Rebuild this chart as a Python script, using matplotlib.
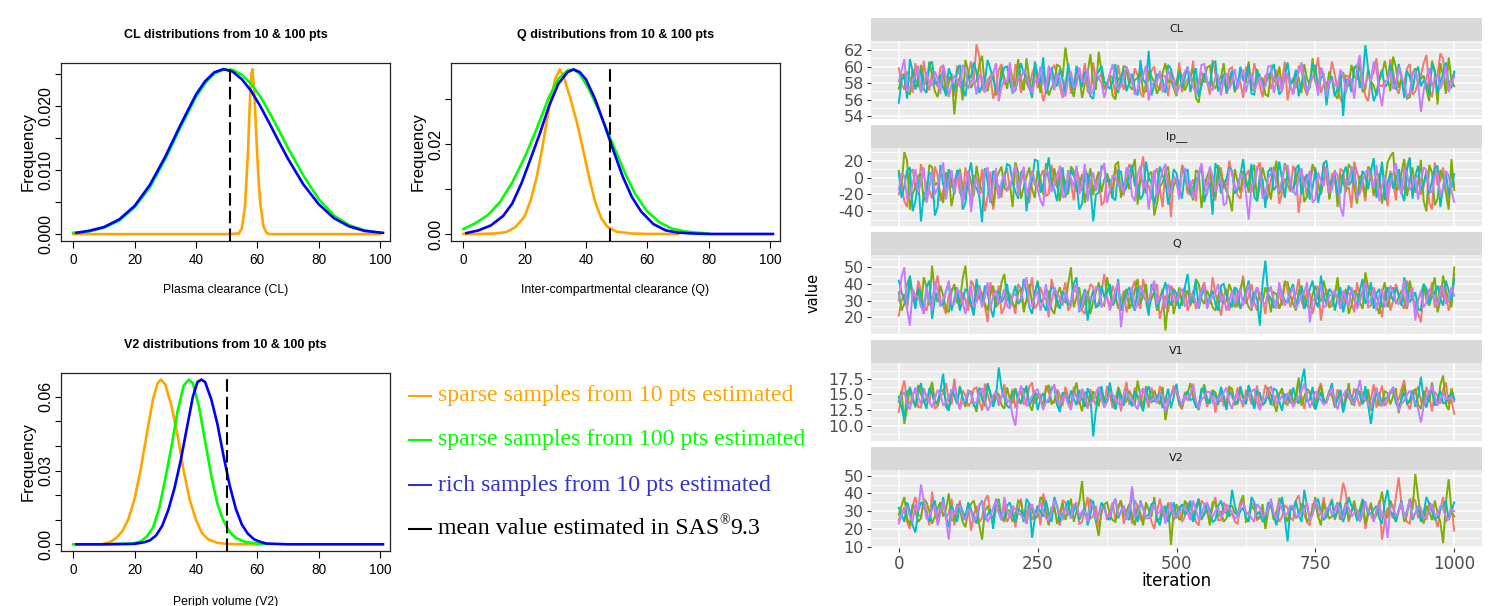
import numpy as np
import matplotlib
matplotlib.use("Agg")
import matplotlib.pyplot as plt
from matplotlib import font_manager
from matplotlib.lines import Line2D

# ---------------------------------------------------------------- data: density curves
# CL panel
cl_orange_x = [0, 10, 20, 30, 40, 50, 54, 55, 56, 57, 57.5, 58, 58.4, 59, 59.5, 60, 60.5, 61, 62, 63, 64, 70, 80, 90, 100]
cl_orange_y = [0, 0, 0, 0, 0, 0, 0.0001, 0.0009, 0.0043, 0.0130, 0.0195, 0.0245, 0.0258, 0.0225, 0.0175,
               0.0124, 0.0080, 0.0048, 0.0013, 0.0002, 0, 0, 0, 0, 0]
cl_green_x = [0, 5, 10, 15, 20, 25, 30, 35, 40, 43, 46, 49, 52, 55, 58, 61, 64, 67, 70, 75, 80, 85, 90, 95, 100]
cl_green_y = [0.0002, 0.0004, 0.0010, 0.0021, 0.0042, 0.0073, 0.0117, 0.0167, 0.0214, 0.0236, 0.0251, 0.0257,
              0.0257, 0.0249, 0.0235, 0.0215, 0.0190, 0.0163, 0.0135, 0.0092, 0.0055, 0.0029, 0.0014, 0.0006, 0.0002]
cl_blue_x = [1, 5, 10, 15, 20, 25, 30, 35, 40, 43, 46, 49, 52, 55, 58, 61, 64, 67, 70, 75, 80, 85, 90, 95, 101]
cl_blue_y = [0.0002, 0.0005, 0.0011, 0.0023, 0.0044, 0.0077, 0.0121, 0.0171, 0.0218, 0.0239, 0.0253, 0.0258,
             0.0254, 0.0242, 0.0224, 0.0200, 0.0173, 0.0145, 0.0118, 0.0078, 0.0047, 0.0025, 0.0012, 0.0005, 0.0002]
cl_mean = 51.1

# Q panel
q_orange_x = [0, 5, 10, 14, 17, 20, 22, 24, 26, 28, 30, 31.5, 33, 35, 37, 39, 41, 43, 45, 47, 50, 55, 60, 70]
q_orange_y = [0, 0, 0.0001, 0.0004, 0.0015, 0.0039, 0.0075, 0.0128, 0.0200, 0.0282, 0.0345, 0.0366, 0.0345,
              0.0300, 0.0250, 0.0190, 0.0127, 0.0072, 0.0035, 0.0016, 0.0005, 0.0001, 0, 0]
q_green_x = [0, 4, 8, 12, 16, 20, 24, 28, 31, 34, 36, 38, 41, 44, 47, 50, 53, 56, 60, 64, 68, 72, 76, 80]
q_green_y = [0.0011, 0.0024, 0.0042, 0.0071, 0.0115, 0.0170, 0.0235, 0.0305, 0.0345, 0.0364, 0.0366, 0.0356,
             0.0322, 0.0278, 0.0228, 0.0180, 0.0132, 0.0090, 0.0050, 0.0026, 0.0012, 0.0006, 0.0003, 0.0001]
q_blue_x = [1, 5, 9, 13, 16, 19, 22, 25, 28, 31, 34, 36, 38, 40, 43, 46, 49, 52, 55, 58, 62, 66, 70, 75, 80, 90, 101]
q_blue_y = [0.0002, 0.0008, 0.0019, 0.0040, 0.0068, 0.0113, 0.0168, 0.0224, 0.0285, 0.0334, 0.0360, 0.0366,
            0.0360, 0.0344, 0.0300, 0.0244, 0.0185, 0.0128, 0.0082, 0.0050, 0.0022, 0.0008, 0.0003, 0.0001, 0, 0, 0]
q_mean = 48.0

# V2 panel
v2_orange_x = [10, 12, 14, 16, 18, 20, 22, 24, 26, 27.5, 28.6, 30, 32, 34, 36, 38, 40, 42, 44, 47, 50, 55, 60]
v2_orange_y = [0.0003, 0.0009, 0.0025, 0.0053, 0.0103, 0.0185, 0.0305, 0.0450, 0.0590, 0.0655, 0.0670, 0.0650,
               0.0565, 0.0445, 0.0300, 0.0180, 0.0100, 0.0045, 0.0020, 0.0006, 0.0002, 0, 0]
v2_green_x = [0, 10, 18, 20, 22, 24, 26, 28, 30, 32, 34, 36, 37.7, 39, 41, 43, 45, 47, 49, 51, 53, 56, 60, 63]
v2_green_y = [0, 0, 0.0002, 0.0005, 0.0012, 0.0032, 0.0068, 0.0145, 0.0265, 0.0395, 0.0540, 0.0645, 0.0670,
              0.0655, 0.0560, 0.0420, 0.0280, 0.0165, 0.0095, 0.0050, 0.0026, 0.0010, 0.0003, 0.0001]
v2_blue_x = [1, 10, 20, 23, 25, 27, 29, 31, 33, 35, 37, 39, 40.5, 41.8, 43, 45, 47, 49, 51, 53, 55, 57, 59, 61, 63,
             70, 80, 90, 101]
v2_blue_y = [0, 0, 0.0002, 0.0008, 0.0016, 0.0036, 0.0075, 0.0140, 0.0228, 0.0338, 0.0470, 0.0600, 0.0660, 0.0670,
             0.0660, 0.0590, 0.0490, 0.0360, 0.0240, 0.0145, 0.0080, 0.0042, 0.0020, 0.0010, 0.0003, 0, 0, 0, 0]
v2_mean = 50.2

legend_labels = ["sparse samples from 10 pts estimated",
                 "sparse samples from 100 pts estimated",
                 "rich samples from 10 pts estimated",
                 "mean value estimated in SAS"]

# ---------------------------------------------------------------- data: MCMC traces, 4 chains
# *_cN   : values at iterations 0, 10, ..., 1000
# *_cN_m : values at iterations 5, 15, ..., 995
cl_c1 = [59.8, 57.2, 58.6, 60.4, 56.9, 58.1, 59.3, 57.5, 60.1, 58.8,
         56.4, 58.9, 57.7, 60.6, 62.7, 57.3, 58.4, 56.1, 59.6, 57.9,
         58.5, 60.3, 56.8, 58.0, 59.1, 57.4, 55.8, 58.7, 60.2, 57.6,
         58.3, 56.7, 59.4, 58.1, 57.0, 60.5, 58.6, 57.2, 59.0, 56.5,
         58.2, 59.7, 57.8, 58.9, 56.3, 58.4, 60.0, 57.1, 58.8, 59.5,
         57.6, 56.9, 58.5, 60.7, 57.8, 58.1, 56.6, 59.2, 58.0, 57.4,
         59.9, 58.3, 56.2, 58.7, 60.4, 57.7, 58.9, 57.3, 59.6, 58.2,
         55.9, 58.6, 60.1, 57.5, 58.4, 59.3, 56.8, 58.0, 60.6, 57.2,
         55.5, 58.8, 59.7, 57.9, 56.4, 58.5, 61.0, 57.6, 58.2, 59.4,
         56.7, 58.1, 60.3, 57.0, 58.9, 61.4, 56.3, 59.1, 60.9, 57.8, 59.2]
cl_c1_m = [57.9, 59.4, 56.8, 58.2, 60.7, 57.1, 58.6, 59.9, 56.5, 58.3,
           60.1, 57.6, 59.0, 58.4, 61.2, 56.9, 58.8, 57.4, 60.3, 58.0,
           56.7, 59.2, 58.5, 57.3, 60.0, 58.1, 57.0, 59.6, 58.9, 56.2,
           59.3, 57.8, 58.7, 60.4, 56.6, 58.2, 59.1, 57.5, 58.6, 60.2,
           57.2, 58.4, 59.8, 56.8, 58.0, 59.5, 57.7, 58.9, 56.4, 58.6,
           60.5, 57.9, 58.3, 56.7, 59.4, 58.2, 60.8, 57.0, 58.5, 59.7,
           56.9, 58.1, 60.0, 57.6, 58.8, 56.3, 59.2, 58.4, 57.1, 60.6,
           58.0, 57.4, 59.5, 56.5, 58.7, 61.1, 57.8, 58.3, 59.0, 56.1,
           58.9, 57.3, 60.2, 58.6, 55.8, 59.3, 57.7, 58.2, 60.9, 57.5,
           58.4, 59.8, 56.6, 58.1, 60.4, 57.2, 58.7, 61.6, 56.9, 58.5]
cl_c2 = [57.3, 59.1, 56.6, 58.4, 60.2, 57.8, 58.9, 56.3, 59.6, 58.0,
         54.2, 58.7, 60.8, 57.4, 58.2, 61.3, 57.0, 59.3, 56.8, 58.6,
         59.9, 57.5, 58.3, 61.0, 57.1, 58.8, 59.4, 56.5, 58.1, 60.0,
         62.3, 57.7, 58.5, 56.2, 59.2, 58.0, 61.8, 57.3, 58.9, 56.0,
         58.4, 59.8, 57.2, 58.6, 56.9, 59.5, 58.1, 57.6, 60.4, 58.3,
         56.4, 58.8, 57.9, 59.7, 55.6, 58.2, 60.1, 57.4, 58.7, 56.7,
         59.0, 57.8, 58.5, 60.6, 57.1, 58.3, 56.6, 59.4, 58.0, 57.5,
         59.2, 56.8, 58.6, 60.3, 57.7, 58.1, 59.6, 57.0, 58.4, 56.1,
         59.3, 57.6, 58.8, 60.5, 57.3, 58.2, 56.5, 59.1, 58.7, 61.2,
         57.4, 58.0, 56.3, 59.8, 58.5, 57.2, 60.7, 55.4, 58.9, 61.1, 57.6]
cl_c2_m = [58.9, 56.9, 59.7, 57.5, 58.3, 60.6, 57.0, 58.5, 56.4, 59.2,
           57.8, 55.9, 59.4, 58.1, 60.3, 57.6, 58.8, 56.6, 59.9, 57.3,
           58.6, 60.9, 57.1, 58.4, 59.6, 56.8, 58.2, 57.4, 60.2, 58.7,
           59.8, 56.3, 58.9, 57.9, 61.5, 57.2, 59.3, 58.0, 56.5, 58.6,
           60.1, 57.7, 58.4, 59.5, 57.0, 58.8, 56.7, 59.2, 58.1, 57.4,
           59.6, 57.1, 58.9, 56.2, 58.5, 59.9, 57.6, 58.2, 60.4, 57.8,
           56.9, 59.3, 58.0, 57.2, 59.7, 58.6, 56.4, 58.3, 60.0, 58.8,
           57.5, 59.1, 56.8, 58.5, 61.0, 57.3, 58.7, 59.4, 56.6, 58.2,
           57.9, 60.2, 58.4, 56.9, 59.6, 57.7, 58.3, 60.7, 57.0, 59.9,
           58.6, 56.1, 59.2, 57.8, 58.9, 55.8, 59.5, 60.4, 56.7, 58.3]
cl_c3 = [55.6, 58.9, 60.9, 57.2, 59.5, 56.8, 60.6, 58.1, 57.4, 59.8,
         57.0, 60.2, 56.4, 58.7, 59.3, 57.6, 60.8, 58.4, 56.9, 59.9,
         58.2, 57.1, 60.4, 58.6, 56.2, 59.0, 61.1, 57.8, 58.3, 59.6,
         56.7, 58.0, 60.1, 57.5, 58.8, 56.1, 59.4, 58.2, 57.3, 60.3,
         58.6, 57.0, 59.1, 56.5, 58.4, 61.9, 57.9, 58.7, 56.8, 59.7,
         58.1, 57.4, 60.0, 58.5, 56.3, 59.2, 57.7, 60.6, 58.0, 56.9,
         59.5, 57.6, 58.3, 60.2, 56.6, 58.9, 57.8, 59.3, 58.4, 57.1,
         60.5, 58.2, 56.4, 59.0, 57.5, 60.1, 58.6, 55.3, 58.8, 57.3,
         54.0, 58.5, 59.9, 57.4, 62.6, 58.1, 56.7, 59.6, 57.9, 58.4,
         60.3, 56.2, 58.7, 59.2, 57.6, 58.0, 60.4, 56.8, 59.1, 57.7, 59.4]
cl_c3_m = [58.3, 56.1, 59.4, 58.5, 57.3, 60.2, 57.9, 59.0, 56.6, 58.7,
           59.5, 57.4, 58.9, 60.5, 56.8, 58.2, 59.7, 57.1, 58.6, 60.0,
           56.9, 58.8, 59.2, 57.5, 60.6, 58.0, 56.7, 59.9, 57.6, 58.4,
           60.4, 57.2, 58.6, 59.3, 56.4, 58.9, 60.1, 57.7, 58.2, 56.8,
           59.6, 58.1, 57.3, 60.8, 57.9, 56.5, 59.0, 58.4, 60.2, 57.4,
           59.3, 58.7, 56.9, 59.8, 57.6, 58.2, 60.4, 57.0, 59.1, 58.5,
           57.2, 60.0, 58.6, 56.7, 59.4, 57.9, 58.8, 60.3, 56.6, 58.9,
           57.8, 59.6, 58.0, 56.9, 60.2, 57.3, 59.0, 57.9, 56.4, 59.2,
           58.3, 56.9, 60.1, 58.4, 59.7, 55.8, 58.6, 57.5, 60.3, 57.2,
           58.9, 59.5, 57.1, 60.0, 58.3, 56.6, 59.3, 58.1, 60.5, 57.4]
cl_c4 = [58.2, 60.9, 57.4, 58.8, 56.9, 59.3, 57.7, 58.5, 60.2, 56.3,
         58.9, 57.5, 59.6, 58.1, 56.6, 58.7, 57.9, 59.2, 55.8, 58.4,
         60.5, 57.3, 58.6, 59.0, 56.8, 57.9, 58.3, 60.1, 57.1, 58.5,
         56.4, 59.4, 57.8, 58.2, 59.7, 57.0, 58.6, 56.2, 59.1, 58.3,
         57.6, 60.0, 58.4, 57.2, 58.9, 55.9, 58.1, 59.5, 57.7, 58.6,
         56.7, 58.3, 59.8, 57.5, 58.0, 60.3, 57.4, 58.7, 56.5, 59.2,
         58.1, 57.3, 59.6, 58.4, 56.9, 58.8, 57.6, 60.1, 58.2, 57.0,
         58.9, 56.6, 59.3, 58.0, 57.8, 58.5, 59.9, 56.4, 58.3, 57.5,
         59.1, 58.6, 56.1, 61.4, 57.9, 58.2, 59.7, 55.2, 58.4, 57.3,
         60.0, 58.1, 56.8, 59.4, 54.5, 58.7, 57.6, 59.0, 58.3, 56.9, 58.8]
cl_c4_m = [59.5, 57.0, 58.3, 60.1, 57.6, 58.0, 59.4, 56.7, 58.8, 57.9,
           58.4, 60.2, 57.3, 58.7, 59.0, 56.9, 58.5, 60.4, 57.5, 58.1,
           56.9, 58.8, 59.6, 57.7, 58.3, 60.0, 57.1, 58.9, 59.2, 56.8,
           58.6, 57.4, 59.9, 58.1, 56.7, 59.3, 58.0, 57.6, 60.3, 57.2,
           58.7, 59.1, 56.6, 58.4, 60.1, 57.8, 58.2, 56.9, 59.6, 58.0,
           57.5, 59.4, 58.8, 56.8, 60.2, 58.3, 57.1, 59.0, 58.5, 57.3,
           59.7, 58.6, 56.9, 59.2, 58.0, 57.4, 60.0, 56.8, 58.9, 59.3,
           57.6, 58.2, 60.5, 57.0, 58.7, 56.5, 59.1, 58.3, 57.8, 59.6,
           56.8, 58.4, 59.9, 57.3, 58.8, 60.6, 56.9, 58.1, 59.4, 57.7,
           58.5, 56.3, 59.2, 58.0, 57.1, 59.8, 58.4, 57.3, 60.1, 57.9]

lp_c1 = [-20, -28, 5, -12, 16, -8, -25, 3, -15, 8,
         -5, -18, 12, -30, -2, 10, -22, -38, -9, 4,
         -14, 17, -6, -26, 2, -11, 9, -19, -3, 14,
         -24, -7, 11, -16, 0, -10, 6, -28, -4, 13,
         -17, -1, 8, -23, 25, -9, 3, -13, 10, -47,
         -6, 15, -20, -2, 7, -15, 1, -27, 12, -8,
         4, -21, -5, 9, -12, 18, -30, -3, 6, -18,
         -9, 14, -42, 2, -7, 11, -16, -1, 5, -24,
         8, -11, 19, -6, -28, 3, -13, 16, -34, -4,
         10, -15, 24, 0, -20, 7, -38, -9, 12, -25, -10]
lp_c1_m = [-8, -35, 10, -20, 2, -15, 13, -28, -4, -12,
           6, -25, -10, 3, -17, -40, 7, -13, -24, 11,
           -3, -18, 8, -30, -9, 1, -22, 15, -12, -6,
           9, -27, -2, 12, -19, -8, -33, 4, -14, 0,
           -21, 16, -6, 5, -15, -26, 11, -35, -3, 2,
           -18, 8, -11, -28, 14, -5, -20, 6, -13, 20,
           -9, -25, 3, -16, 10, -7, -22, 13, -31, -1,
           -17, 5, -12, -24, 9, -6, 17, -20, -3, 10,
           -15, -36, 6, -9, 12, -22, -1, -14, 8, -27,
           -5, 14, -18, 3, -11, -30, 18, -4, -16, 7]
lp_c2 = [8, 30, -38, -10, 5, -22, 12, -6, -30, 2,
         -15, 10, -26, -4, 14, -18, -1, -33, 6, -12,
         -8, 18, -25, 1, -14, 9, -20, -3, 11, -28,
         -5, 13, -17, 4, -9, -21, 7, -2, -13, 15,
         -24, 0, 9, -32, -7, 3, -45, -11, 6, -19,
         -3, 12, -14, -27, 5, -8, 10, -22, 2, -16,
         -40, -5, 8, -18, 15, -10, -2, -26, 20, -7,
         4, -14, 11, -29, -1, 7, -20, 13, -9, -35,
         -4, 16, -12, 2, -23, 9, -6, -31, 18, 30,
         -13, 22, -3, -18, 21, -40, 6, -25, 1, -38, -15]
lp_c2_m = [-10, 20, -20, 2, -28, 15, -9, -19, 6, -34,
           4, -12, 8, -22, -6, 10, -27, -2, 13, -16,
           -35, 6, -11, 12, -24, -1, 17, -14, -7, 3,
           -20, 8, -10, -30, 11, -4, -17, 5, -25, 19,
           -8, -14, 22, -2, -19, 7, -30, -6, 13, -10,
           -22, 4, -16, 9, -36, 1, -12, 15, -5, -24,
           10, -18, -1, 6, -28, 12, -9, 3, -20, 17,
           -13, -4, 8, -22, 16, -11, -3, -26, 9, 4,
           -17, 10, -31, -2, 13, -20, 5, -8, 25, -14,
           6, -22, 12, -7, -28, 15, -33, 9, -18, 22]
lp_c3 = [5, -10, 12, -28, -52, -15, 3, -35, -8, 10,
         -20, 2, -30, 18, -12, -53, -5, 8, -24, -1,
         14, -17, 6, -40, -3, 20, -9, 24, -14, 1,
         -22, 9, -6, -31, 4, -52, -18, 11, -2, -27,
         7, -12, 15, -8, -20, 0, -33, 13, -4, -16,
         5, -25, 10, -11, 2, -29, -6, 17, -19, -1,
         8, -14, 22, -7, -23, 3, -36, 12, -10, -2,
         6, -18, 15, -5, -26, 9, -12, 20, -3, -21,
         4, -9, 12, -16, 1, 7, -24, 19, -6, -13,
         10, -28, 23, 2, -15, 8, -4, 14, -11, -20, 4]
lp_c3_m = [-24, 8, -40, -2, -20, 6, -45, 15, -16, -3,
           9, -38, 1, -10, -22, 11, -30, 4, -14, 16,
           -6, -25, 10, -12, 21, -18, 3, -8, -28, 12,
           -14, 2, -38, 7, -11, -20, 13, -5, -24, 8,
           -17, 4, -9, -26, 19, -7, -14, 2, -32, 10,
           -12, 6, -21, -3, 14, -16, -44, 9, -8, 12,
           -19, 3, -11, 16, -28, -2, 7, -15, 19, -24,
           -6, 11, -20, 4, -12, -30, 17, -9, 2, -18,
           13, -5, -22, 8, -14, 23, -10, -27, 5, -3,
           -17, 9, -25, 14, -7, -19, 11, -35, 6, -12]
lp_c4 = [-14, 2, -22, 10, -5, -30, 7, -12, 18, -3,
         -18, 5, -9, -41, 1, -16, 12, -7, -25, 4,
         -11, 15, -2, -20, 8, -14, -34, 3, -8, 11,
         -19, -1, 14, -10, -28, 6, -4, 17, -15, 0,
         -7, 12, -22, 3, -13, -38, 9, -5, 16, -19,
         -2, 8, -11, -24, 4, -8, 13, -17, -1, -30,
         7, -12, 2, -50, -6, 10, -20, 5, -9, -3,
         14, -16, 1, -11, 8, -26, -4, 12, -14, 3,
         -46, -7, 9, -19, 6, -2, 15, -10, -23, 4,
         -8, 11, -15, 1, -5, 9, -18, 6, -12, 2, -29]
lp_c4_m = [4, -25, -8, -18, 12, -12, -20, 3, -26, 9,
           -2, -32, 8, -13, -20, 6, -28, 11, -5, -15,
           2, -22, 13, -9, -3, -27, 10, -17, 4, -24,
           7, -12, -20, 16, -6, -16, 9, -30, 3, -10,
           -18, 6, -28, 14, -3, -11, -22, 8, -14, 1,
           -26, 11, -4, -15, 17, -21, 2, -8, -33, 10,
           -14, 4, -18, -9, 12, -25, 0, 9, -16, 14,
           -7, -21, 11, -3, -30, 6, -10, -18, 7, -35,
           -2, 13, -24, -5, 10, -12, -28, 3, -8, 17,
           -20, 5, -9, -26, 12, -14, 1, -22, 8, -16]

q_c1 = [21, 34, 40, 28, 36, 24, 31, 45, 27, 33,
        38, 25, 30, 42, 29, 35, 17, 32, 39, 26,
        34, 22, 37, 30, 44, 28, 33, 20, 36, 31,
        41, 27, 35, 24, 32, 38, 29, 46, 26, 34,
        30, 23, 37, 31, 43, 28, 35, 19, 33, 39,
        27, 32, 24, 36, 30, 41, 28, 34, 21, 37,
        31, 26, 45, 33, 29, 35, 22, 38, 30, 27,
        36, 32, 43, 25, 34, 29, 18, 37, 31, 40,
        28, 35, 23, 32, 44, 27, 33, 20, 38, 30,
        34, 25, 36, 29, 17, 35, 41, 28, 32, 24, 46]
q_c1_m = [30, 25, 36, 42, 26, 33, 38, 29, 22, 37,
          31, 35, 24, 39, 33, 27, 41, 28, 22, 36,
          29, 40, 27, 34, 25, 38, 31, 43, 26, 33,
          24, 37, 30, 22, 40, 26, 35, 31, 39, 25,
          36, 29, 42, 25, 34, 32, 40, 27, 23, 36,
          33, 38, 28, 25, 37, 31, 44, 29, 33, 24,
          38, 35, 28, 40, 24, 31, 37, 29, 35, 42,
          26, 34, 30, 37, 22, 39, 31, 27, 35, 25,
          33, 29, 41, 36, 26, 38, 28, 35, 24, 40,
          28, 42, 31, 22, 37, 30, 26, 39, 35, 29]
q_c2 = [35, 28, 44, 31, 26, 38, 51, 29, 33, 23,
        40, 30, 51, 27, 36, 32, 24, 39, 29, 46,
        33, 26, 37, 31, 28, 42, 30, 35, 22, 38,
        29, 50, 32, 25, 36, 30, 41, 27, 34, 31,
        24, 37, 29, 43, 33, 26, 35, 31, 12, 38,
        30, 27, 36, 33, 40, 28, 32, 24, 37, 30,
        35, 29, 43, 26, 33, 31, 38, 23, 34, 30,
        41, 28, 36, 32, 25, 39, 30, 34, 27, 44,
        31, 22, 36, 29, 47, 33, 28, 35, 26, 38,
        32, 29, 42, 24, 34, 30, 37, 23, 45, 31, 50]
q_c2_m = [24, 40, 30, 36, 44, 27, 34, 39, 25, 35,
          29, 43, 31, 22, 39, 28, 34, 26, 41, 30,
          28, 35, 23, 40, 34, 29, 37, 25, 33, 30,
          40, 26, 38, 29, 22, 35, 28, 44, 30, 27,
          33, 25, 36, 28, 40, 31, 24, 37, 30, 22,
          38, 33, 27, 43, 31, 36, 26, 33, 28, 40,
          26, 37, 31, 24, 38, 29, 33, 35, 25, 41,
          33, 24, 39, 27, 34, 31, 42, 26, 33, 29,
          37, 27, 34, 25, 38, 30, 22, 41, 33, 28,
          36, 25, 33, 31, 40, 27, 44, 30, 36, 26]
q_c3 = [42, 30, 45, 25, 33, 38, 19, 35, 28, 40,
        31, 24, 37, 29, 43, 27, 34, 20, 36, 32,
        26, 39, 30, 35, 22, 41, 28, 33, 37, 25,
        34, 29, 44, 31, 18, 36, 27, 32, 40, 30,
        24, 35, 28, 38, 33, 21, 36, 30, 41, 27,
        34, 31, 46, 29, 25, 37, 32, 28, 39, 33,
        26, 36, 30, 42, 35, 15, 54, 31, 27, 34,
        29, 40, 33, 25, 37, 30, 45, 28, 35, 32,
        23, 39, 31, 36, 28, 41, 34, 26, 38, 30,
        33, 44, 29, 35, 24, 37, 32, 39, 27, 36, 43]
q_c3_m = [35, 27, 33, 38, 22, 42, 31, 27, 36, 24,
          38, 30, 35, 21, 33, 39, 26, 32, 29, 40,
          33, 28, 43, 26, 35, 31, 24, 38, 30, 35,
          27, 40, 23, 37, 30, 26, 39, 35, 27, 43,
          29, 38, 24, 34, 30, 40, 26, 35, 31, 37,
          25, 38, 30, 42, 33, 28, 36, 24, 40, 29,
          38, 25, 35, 28, 31, 40, 34, 26, 39, 30,
          36, 26, 38, 30, 42, 26, 33, 37, 24, 38,
          30, 35, 27, 43, 32, 25, 37, 30, 34, 38,
          27, 36, 32, 25, 40, 28, 35, 31, 42, 30]
q_c4 = [30, 50, 15, 33, 27, 38, 24, 36, 31, 42,
        28, 35, 22, 39, 30, 26, 41, 33, 29, 37,
        25, 34, 31, 44, 27, 36, 30, 23, 38, 32,
        35, 28, 40, 26, 33, 30, 37, 29, 24, 36,
        14, 31, 38, 27, 34, 29, 42, 32, 25, 35,
        30, 37, 28, 33, 26, 39, 31, 35, 29, 24,
        36, 32, 27, 40, 30, 34, 28, 37, 25, 33,
        31, 38, 29, 35, 17, 32, 40, 27, 34, 30,
        36, 26, 33, 29, 41, 31, 24, 37, 30, 35,
        28, 42, 32, 18, 36, 29, 34, 27, 39, 31, 33]
q_c4_m = [44, 25, 37, 32, 22, 30, 41, 27, 35, 28,
          37, 29, 34, 26, 38, 32, 25, 36, 31, 27,
          33, 30, 38, 27, 32, 24, 40, 29, 34, 27,
          30, 36, 24, 35, 31, 38, 26, 33, 30, 41,
          28, 35, 25, 39, 30, 36, 28, 33, 40, 29,
          35, 27, 34, 29, 36, 25, 32, 40, 33, 30,
          28, 37, 33, 25, 38, 29, 35, 31, 41, 27,
          34, 25, 33, 41, 30, 37, 26, 33, 36, 26,
          31, 38, 25, 35, 28, 37, 33, 26, 39, 29,
          33, 26, 38, 30, 26, 37, 31, 35, 28, 38]

v1_c1 = [12.2, 17.2, 13.5, 15.8, 12.9, 14.6, 16.4, 13.1, 15.2, 14.0,
         17.5, 12.6, 14.8, 13.7, 16.1, 12.4, 15.0, 14.3, 13.2, 16.6,
         14.1, 12.8, 15.5, 13.9, 16.9, 14.4, 12.5, 15.3, 13.6, 14.9,
         16.2, 13.0, 14.7, 15.6, 12.7, 14.2, 16.0, 13.4, 15.1, 14.5,
         12.3, 17.0, 13.8, 14.6, 15.9, 12.9, 14.3, 16.3, 13.5, 14.8,
         15.4, 12.6, 14.0, 16.7, 13.3, 15.2, 14.4, 12.1, 15.7, 13.9,
         14.6, 16.1, 13.0, 15.0, 14.2, 12.8, 16.5, 13.7, 14.9, 15.5,
         13.2, 14.1, 17.1, 12.7, 15.3, 14.0, 16.8, 13.6, 14.7, 15.8,
         12.4, 14.5, 16.0, 13.1, 15.6, 14.3, 12.9, 16.4, 13.8, 15.1,
         14.2, 17.3, 12.6, 15.4, 13.9, 16.2, 12.3, 14.8, 15.7, 13.4, 11.9]
v1_c1_m = [15.5, 13.8, 14.9, 13.0, 16.0, 13.7, 12.8, 14.7, 16.8, 13.4,
           14.2, 15.6, 13.1, 15.9, 14.0, 16.7, 13.4, 15.5, 14.7, 13.8,
           15.9, 14.6, 13.4, 16.2, 13.5, 15.1, 16.4, 14.0, 15.8, 13.2,
           14.6, 16.2, 13.4, 14.1, 15.8, 13.3, 14.8, 16.3, 12.8, 15.7,
           14.9, 13.5, 16.1, 13.1, 14.5, 16.1, 13.6, 15.0, 14.5, 16.4,
           13.3, 15.4, 14.7, 13.6, 15.8, 13.0, 15.6, 14.5, 13.1, 16.2,
           13.7, 14.3, 15.7, 13.4, 16.4, 14.1, 15.4, 13.2, 15.0, 13.8,
           15.6, 13.7, 14.7, 15.3, 13.5, 15.6, 14.1, 15.2, 13.6, 14.4,
           15.6, 13.8, 14.6, 15.2, 13.4, 16.6, 14.8, 13.2, 15.5, 14.0,
           15.8, 13.6, 14.8, 16.2, 13.2, 14.7, 15.4, 13.5, 16.9, 14.1]
v1_c2 = [13.8, 10.3, 16.2, 12.9, 15.1, 14.4, 17.0, 13.3, 15.7, 12.5,
         14.8, 16.3, 13.0, 15.4, 12.2, 14.6, 16.8, 13.7, 15.0, 12.7,
         14.2, 16.0, 13.5, 15.8, 12.4, 14.9, 13.2, 16.5, 14.0, 12.8,
         15.3, 13.6, 16.9, 12.3, 14.7, 15.5, 13.1, 14.3, 16.2, 12.6,
         15.0, 13.9, 14.5, 17.2, 12.9, 14.1, 15.6, 13.4, 10.9, 14.8,
         16.1, 13.0, 15.2, 14.6, 12.5, 16.6, 13.8, 15.3, 14.0, 12.7,
         15.9, 13.5, 14.4, 16.3, 12.8, 15.1, 13.7, 14.9, 12.2, 16.0,
         14.3, 13.1, 17.7, 14.6, 15.4, 12.6, 16.4, 13.9, 15.0, 14.2,
         12.9, 16.8, 13.3, 15.5, 14.1, 12.4, 16.1, 13.6, 15.2, 14.7,
         12.0, 16.5, 13.8, 15.8, 12.7, 14.4, 16.9, 13.2, 18.0, 12.5, 14.3]
v1_c2_m = [15.6, 12.8, 14.6, 16.5, 13.6, 15.4, 13.9, 15.5, 13.9, 15.8,
           13.6, 14.4, 15.6, 13.5, 15.9, 13.1, 14.9, 15.4, 13.3, 16.1,
           13.6, 14.5, 15.9, 13.3, 15.3, 14.1, 15.8, 13.4, 15.5, 14.4,
           13.9, 15.3, 13.9, 15.4, 13.2, 14.6, 15.6, 13.7, 13.9, 16.2,
           13.6, 15.6, 13.2, 14.6, 16.3, 13.8, 14.4, 16.2, 13.4, 15.5,
           13.7, 14.4, 16.8, 13.3, 15.2, 14.3, 15.7, 13.9, 14.8, 16.2,
           13.4, 15.7, 13.6, 14.9, 15.3, 13.3, 16.1, 13.8, 15.1, 13.5,
           15.8, 14.9, 13.2, 15.9, 13.5, 15.0, 14.2, 15.6, 12.9, 15.7,
           14.2, 13.5, 15.4, 13.6, 15.8, 14.3, 13.2, 15.5, 13.4, 16.0,
           14.6, 13.5, 15.5, 13.3, 15.6, 13.8, 14.2, 16.5, 13.4, 16.0]
v1_c3 = [14.6, 11.0, 15.9, 13.2, 16.8, 12.7, 15.1, 13.9, 18.3, 12.4,
         14.8, 16.2, 13.5, 15.4, 12.9, 14.1, 16.6, 13.0, 19.3, 14.5,
         12.8, 15.7, 13.6, 16.4, 14.0, 12.5, 15.2, 13.8, 16.1, 12.2,
         14.9, 15.6, 13.3, 14.2, 16.0, 8.3, 15.0, 13.7, 16.9, 12.6,
         14.4, 15.8, 13.1, 14.7, 12.3, 16.3, 13.9, 15.3, 14.1, 12.8,
         16.7, 13.4, 15.5, 14.3, 12.9, 15.9, 13.6, 14.8, 16.2, 12.5,
         15.0, 13.8, 14.6, 16.5, 12.7, 15.2, 14.0, 13.3, 15.7, 12.4,
         14.9, 16.1, 13.5, 19.1, 14.2, 12.6, 15.4, 13.9, 16.8, 14.4,
         12.1, 15.6, 13.7, 14.8, 16.3, 10.3, 15.1, 13.4, 14.6, 16.0,
         12.8, 15.3, 14.1, 13.0, 17.8, 12.9, 15.5, 14.3, 13.6, 14.7, 14.2]
v1_c3_m = [12.9, 15.4, 13.9, 15.0, 14.1, 16.0, 13.6, 15.6, 13.0, 15.7,
           13.5, 14.4, 15.1, 13.2, 16.1, 13.7, 15.3, 14.5, 16.0, 13.2,
           15.4, 13.8, 14.8, 13.2, 15.6, 14.3, 13.8, 16.1, 13.3, 15.3,
           13.5, 14.3, 15.7, 13.0, 14.8, 12.6, 16.3, 14.1, 14.3, 15.6,
           13.2, 14.2, 15.5, 13.6, 15.2, 13.9, 14.6, 12.8, 15.9, 14.6,
           13.6, 15.0, 14.1, 13.0, 15.9, 13.7, 15.4, 13.3, 14.7, 15.3,
           13.8, 16.3, 13.4, 14.6, 15.5, 13.3, 14.8, 15.9, 13.9, 15.0,
           13.6, 14.3, 17.0, 13.8, 16.2, 14.0, 13.6, 15.3, 13.4, 15.7,
           14.1, 14.6, 15.9, 13.4, 13.3, 13.8, 15.1, 14.3, 15.2, 13.6,
           14.1, 13.6, 15.6, 14.8, 14.1, 15.2, 13.2, 15.6, 13.6, 15.1]
v1_c4 = [14.0, 15.4, 12.6, 16.1, 13.5, 14.8, 12.9, 15.7, 13.2, 14.5,
         16.3, 12.8, 14.1, 15.2, 13.7, 16.0, 12.4, 14.9, 13.6, 15.5,
         14.2, 10.0, 16.4, 13.1, 14.7, 15.8, 12.7, 14.3, 16.6, 13.4,
         15.0, 12.5, 14.6, 15.9, 13.2, 14.0, 16.2, 12.9, 15.3, 14.4,
         13.0, 15.6, 14.2, 12.6, 16.0, 13.8, 14.5, 15.1, 12.3, 14.9,
         15.7, 13.3, 14.1, 16.5, 12.8, 14.6, 15.4, 13.5, 14.0, 16.1,
         12.7, 15.0, 13.9, 14.7, 15.8, 12.5, 14.3, 16.3, 13.6, 14.8,
         15.2, 13.0, 14.4, 16.7, 12.9, 15.5, 14.1, 13.7, 16.0, 12.6,
         14.9, 15.3, 13.4, 17.3, 14.2, 12.8, 15.9, 13.1, 14.6, 16.2,
         12.4, 14.0, 15.6, 13.8, 10.5, 14.5, 16.4, 13.2, 15.1, 14.3, 13.9]
v1_c4_m = [14.7, 13.6, 14.8, 14.5, 15.4, 13.9, 14.4, 15.0, 13.7, 15.6,
           14.2, 13.7, 15.5, 13.6, 15.4, 14.0, 13.3, 15.2, 14.6, 13.7,
           11.5, 14.7, 15.0, 13.9, 15.5, 14.1, 13.7, 15.6, 14.2, 14.4,
           13.4, 15.1, 14.0, 14.8, 13.6, 15.3, 14.2, 13.8, 15.0, 13.5,
           14.9, 14.3, 13.3, 15.4, 14.8, 14.1, 13.7, 14.8, 13.7, 15.3,
           14.3, 14.8, 15.1, 13.9, 14.2, 15.4, 13.7, 14.4, 15.3, 13.8,
           14.6, 14.0, 14.4, 15.5, 13.6, 14.1, 15.3, 14.7, 14.0, 13.8,
           14.5, 13.9, 15.5, 14.6, 14.0, 14.8, 13.4, 15.2, 13.9, 14.5,
           15.6, 14.1, 15.0, 14.4, 13.6, 14.7, 14.3, 13.8, 15.4, 14.6,
           13.5, 14.9, 14.6, 12.7, 13.2, 15.3, 14.6, 14.3, 14.2, 14.5]

v2_c1 = [25, 32, 20, 38, 27, 31, 41, 24, 35, 29,
         22, 36, 28, 19, 33, 26, 39, 23, 30, 34,
         27, 21, 37, 29, 25, 33, 40, 26, 31, 22,
         35, 28, 32, 24, 38, 27, 21, 34, 30, 25,
         36, 29, 23, 33, 27, 31, 20, 37, 26, 32,
         28, 24, 35, 30, 22, 34, 27, 38, 25, 31,
         29, 23, 36, 28, 33, 26, 21, 35, 30, 27,
         32, 25, 39, 28, 22, 34, 29, 26, 37, 31,
         46, 24, 33, 27, 20, 35, 29, 14, 32, 26,
         49, 28, 23, 36, 30, 25, 33, 21, 38, 27, 19]
v2_c1_m = [30, 24, 33, 28, 35, 22, 29, 34, 26, 37,
           30, 25, 33, 28, 24, 36, 29, 31, 26, 24,
           33, 30, 24, 35, 28, 22, 34, 29, 25, 36,
           28, 34, 23, 31, 26, 33, 29, 25, 35, 31,
           23, 32, 36, 25, 33, 24, 30, 28, 35, 25,
           33, 27, 31, 24, 36, 29, 32, 25, 35, 27,
           24, 33, 29, 35, 25, 31, 34, 27, 24, 33,
           26, 36, 30, 24, 34, 27, 38, 33, 25, 35,
           40, 30, 26, 35, 28, 25, 36, 24, 29, 38,
           34, 24, 37, 26, 29, 35, 27, 31, 24, 33]
v2_c2 = [28, 38, 22, 30, 26, 35, 23, 32, 27, 40,
         25, 31, 21, 34, 29, 14, 33, 26, 37, 24,
         30, 28, 35, 23, 31, 27, 36, 22, 33, 29,
         25, 37, 30, 47, 26, 32, 16, 34, 28, 24,
         36, 30, 27, 33, 22, 31, 38, 26, 29, 11,
         34, 27, 32, 24, 37, 29, 22, 35, 30, 26,
         33, 28, 39, 25, 31, 27, 20, 34, 29, 36,
         24, 31, 28, 33, 26, 38, 22, 30, 27, 35,
         29, 25, 36, 31, 23, 34, 28, 41, 26, 32,
         30, 24, 37, 51, 28, 33, 25, 29, 12, 48, 27]
v2_c2_m = [33, 26, 34, 24, 37, 30, 27, 35, 31, 25,
           34, 24, 30, 36, 22, 30, 28, 34, 27, 31,
           24, 36, 27, 33, 26, 38, 29, 32, 23, 35,
           31, 24, 35, 28, 37, 24, 30, 35, 25, 33,
           27, 34, 22, 29, 35, 27, 24, 32, 34, 30,
           25, 36, 28, 33, 25, 31, 35, 27, 24, 33,
           29, 35, 24, 33, 26, 34, 30, 25, 37, 28,
           33, 26, 34, 24, 31, 27, 35, 26, 31, 25,
           35, 30, 27, 37, 29, 25, 33, 29, 36, 24,
           34, 28, 31, 38, 23, 30, 36, 24, 35, 30]
v2_c3 = [32, 24, 30, 18, 35, 28, 33, 25, 38, 21,
         29, 34, 26, 31, 23, 36, 28, 20, 32, 27,
         35, 24, 30, 37, 15, 33, 27, 29, 38, 24,
         31, 26, 34, 29, 22, 36, 28, 32, 25, 37,
         30, 27, 43, 24, 31, 28, 35, 22, 33, 29,
         26, 34, 30, 24, 37, 28, 31, 25, 36, 29,
         42, 27, 32, 24, 35, 30, 26, 33, 22, 38,
         13, 31, 28, 42, 25, 34, 29, 27, 36, 30,
         24, 38, 31, 26, 35, 29, 33, 23, 42, 28,
         31, 26, 36, 29, 24, 38, 30, 27, 33, 25, 35]
v2_c3_m = [28, 35, 22, 30, 33, 24, 36, 29, 27, 33,
           24, 30, 35, 27, 33, 25, 31, 37, 25, 33,
           28, 31, 24, 34, 26, 30, 36, 24, 33, 28,
           36, 30, 25, 32, 28, 24, 35, 27, 33, 26,
           33, 25, 31, 36, 27, 34, 26, 31, 24, 35,
           31, 28, 36, 30, 26, 34, 24, 33, 30, 27,
           33, 30, 27, 38, 28, 24, 35, 28, 31, 26,
           31, 36, 24, 33, 29, 37, 25, 32, 26, 35,
           29, 33, 25, 36, 28, 31, 26, 35, 30, 24,
           36, 30, 25, 33, 29, 34, 25, 31, 36, 30]
v2_c4 = [23, 30, 27, 34, 45, 26, 31, 22, 36, 14,
         28, 33, 25, 30, 27, 35, 24, 32, 29, 38,
         26, 31, 28, 23, 34, 29, 30, 25, 36, 28,
         32, 26, 35, 30, 24, 33, 28, 31, 27, 37,
         29, 25, 44, 28, 32, 26, 34, 30, 23, 35,
         27, 31, 29, 36, 25, 33, 28, 30, 26, 34,
         30, 27, 35, 29, 24, 32, 28, 37, 26, 31,
         29, 33, 27, 30, 25, 36, 29, 31, 28, 34,
         26, 32, 29, 24, 35, 28, 31, 27, 15, 33,
         30, 26, 36, 29, 32, 27, 34, 28, 31, 25, 30]
v2_c4_m = [28, 33, 24, 30, 36, 27, 33, 29, 26, 31,
           33, 27, 31, 24, 34, 29, 27, 36, 25, 30,
           33, 29, 26, 31, 28, 35, 26, 30, 33, 25,
           29, 33, 27, 30, 35, 25, 32, 27, 34, 28,
           33, 31, 27, 35, 26, 30, 28, 33, 31, 27,
           30, 33, 25, 31, 28, 35, 27, 32, 29, 31,
           26, 33, 29, 26, 34, 27, 31, 29, 35, 27,
           33, 27, 30, 35, 28, 32, 26, 33, 30, 28,
           34, 27, 31, 28, 30, 24, 34, 29, 32, 27,
           35, 30, 27, 32, 26, 30, 28, 33, 27, 31]

trace_names = ["CL", "lp__", "Q", "V1", "V2"]
trace_ticks = [[54, 56, 58, 60, 62], [-40, -20, 0, 20], [20, 30, 40, 50],
               [10.0, 12.5, 15.0, 17.5], [10, 20, 30, 40, 50]]
trace_ticklabels = [["54", "56", "58", "60", "62"], ["-40", "-20", "0", "20"], ["20", "30", "40", "50"],
                    ["10.0", "12.5", "15.0", "17.5"], ["10", "20", "30", "40", "50"]]
iter_ticks = [0, 250, 500, 750, 1000]

# ---------------------------------------------------------------- style
ORANGE, GREEN, BLUE = "#FFA500", "#00FF00", "#0000FF"
CHAIN_COLS = ["#F8766D", "#7CAE00", "#00BFC4", "#C77CFF"]


def pick_font(names):
    for n in names:
        try:
            font_manager.findfont(font_manager.FontProperties(family=n), fallback_to_default=False)
            return n
        except Exception:
            continue
    return "DejaVu Sans"


SANS = pick_font(["Liberation Sans", "DejaVu Sans"])
SERIF = pick_font(["Liberation Serif", "DejaVu Serif"])

W, H = 1501, 606
fig = plt.figure(figsize=(W / 100, H / 100), dpi=100)


def axes_px(x0, y0, x1, y1):
    return fig.add_axes([x0 / W, 1 - y1 / H, (x1 - x0) / W, (y1 - y0) / H])


def text_px(x, y, s, **kw):
    return fig.text(x / W, 1 - y / H, s, **kw)


def weave(every10, every10_mid):
    """Merge the two sample lists of one chain into iteration order."""
    n = min(len(every10) - 1, len(every10_mid))
    its, vals = [], []
    for j in range(n):
        its += [10 * j, 10 * j + 5]
        vals += [every10[j], every10_mid[j]]
    its.append(10 * n)
    vals.append(every10[n])
    return its, vals


# ---------------------------------------------------------------- left: density panels
def density_panel(box, curves, vline, yticks, ylabels, ylim, title, xlabel, title_y, xlabel_y, ylab_x):
    ax = axes_px(*box)
    for xs, ys, c in curves:
        ax.plot(xs, ys, color=c, lw=1.9, solid_joinstyle="round")
    ax.axvline(vline, color="black", lw=1.5, ls=(0, (6, 2.5)))
    ax.set_xlim(-4, 103.3)
    ax.set_ylim(ylim)
    ax.set_xticks([0, 20, 40, 60, 80, 100])
    ax.set_xticklabels(["0", "20", "40", "60", "80", "100"], fontfamily=SANS, fontsize=9.8)
    ax.set_yticks(yticks)
    ax.set_yticklabels(ylabels, rotation=90, va="center", fontfamily=SANS, fontsize=11.5)
    ax.tick_params(axis="x", length=5, width=0.8, pad=3.5)
    ax.tick_params(axis="y", length=4.5, width=0.8, pad=1)
    for sp in ax.spines.values():
        sp.set_linewidth(0.9)
        sp.set_color("#222222")
    xc = (box[0] + box[2]) / 2
    text_px(xc, title_y, title, ha="center", va="center", fontfamily=SANS,
            fontweight="bold", fontsize=9)
    text_px(xc, xlabel_y, xlabel, ha="center", va="center", fontfamily=SANS, fontsize=8.8)
    text_px(ylab_x, (box[1] + box[3]) / 2, "Frequency", rotation=90, ha="center", va="center",
            fontfamily=SANS, fontsize=12)
    return ax


density_panel((61, 62.7, 390, 240.7),
              [(cl_orange_x, cl_orange_y, ORANGE), (cl_green_x, cl_green_y, GREEN), (cl_blue_x, cl_blue_y, BLUE)],
              cl_mean, [0, 0.005, 0.010, 0.015, 0.020, 0.025], ["0.000", "", "0.010", "", "0.020", ""],
              (-0.00103, 0.0268), "CL distributions from 10 & 100 pts", "Plasma clearance (CL)", 35, 290, 28)
density_panel((451, 62.7, 780, 240.7),
              [(q_orange_x, q_orange_y, ORANGE), (q_green_x, q_green_y, GREEN), (q_blue_x, q_blue_y, BLUE)],
              q_mean, [0, 0.01, 0.02, 0.03], ["0.00", "", "0.02", ""],
              (-0.0015, 0.0381), "Q distributions from 10 & 100 pts", "Inter-compartmental clearance (Q)", 35, 290,
              418)
density_panel((61, 372.7, 390, 550.7),
              [(v2_orange_x, v2_orange_y, ORANGE), (v2_green_x, v2_green_y, GREEN), (v2_blue_x, v2_blue_y, BLUE)],
              v2_mean, [0, 0.01, 0.02, 0.03, 0.04, 0.05, 0.06], ["0.00", "", "", "0.03", "", "", "0.06"],
              (-0.0026, 0.0698), "V2 distributions from 10 & 100 pts", "Periph volume (V2)", 345, 602, 28)

# legend (text block between the panels)
leg_cols = [ORANGE, GREEN, "#3333CC", "black"]
leg_y = [396, 440, 485, 529]
for lab, col, y in zip(legend_labels, leg_cols, leg_y):
    fig.add_artist(Line2D([409 / W, 431 / W], [1 - y / H, 1 - y / H], color=col, lw=1.5))
    t = text_px(438, y, lab, ha="left", va="center", color=col, fontfamily=SERIF, fontsize=17.2)
fig.canvas.draw()
x_end = t.get_window_extent().x1
reg = fig.text(x_end / W, 1 - (y - 8) / H, "®", ha="left", va="center", color="black",
               fontfamily=SERIF, fontsize=10)
fig.canvas.draw()
x_end2 = reg.get_window_extent().x1
fig.text(x_end2 / W, 1 - y / H, "9.3", ha="left", va="center", color="black",
         fontfamily=SERIF, fontsize=17.2)

# ---------------------------------------------------------------- right: MCMC trace facets
traces = [[(cl_c1, cl_c1_m), (cl_c2, cl_c2_m), (cl_c3, cl_c3_m), (cl_c4, cl_c4_m)],
          [(lp_c1, lp_c1_m), (lp_c2, lp_c2_m), (lp_c3, lp_c3_m), (lp_c4, lp_c4_m)],
          [(q_c1, q_c1_m), (q_c2, q_c2_m), (q_c3, q_c3_m), (q_c4, q_c4_m)],
          [(v1_c1, v1_c1_m), (v1_c2, v1_c2_m), (v1_c3, v1_c3_m), (v1_c4, v1_c4_m)],
          [(v2_c1, v2_c1_m), (v2_c2, v2_c2_m), (v2_c3, v2_c3_m), (v2_c4, v2_c4_m)]]
trace_ylims = [(53.64, 63.13), (-57.8, 35.06), (10.2, 57.2), (7.58, 20.07), (9.16, 53.27)]

X0, X1 = 871, 1482
for i, (name, chains) in enumerate(zip(trace_names, traces)):
    top = 17.7 + i * 107.3
    sax = axes_px(X0, top, X1, top + 23)
    sax.set_facecolor("#D9D9D9")
    sax.set_xticks([]); sax.set_yticks([])
    for sp in sax.spines.values():
        sp.set_visible(False)
    sax.text(0.5, 0.5, name, ha="center", va="center", fontsize=8, color="#1A1A1A",
             transform=sax.transAxes)

    ax = axes_px(X0, top + 23, X1, top + 101.3)
    ax.set_facecolor("#EBEBEB")
    for sp in ax.spines.values():
        sp.set_visible(False)
    for k, (a, b) in enumerate(chains):
        its, vals = weave(a, b)
        ax.plot(its, vals, color=CHAIN_COLS[k], lw=1.4, solid_joinstyle="miter")
    yt = trace_ticks[i]
    step = yt[1] - yt[0]
    ax.set_yticks(yt)
    ax.set_yticklabels(trace_ticklabels[i])
    ax.set_yticks([yt[0] - step / 2] + [v + step / 2 for v in yt], minor=True)
    ax.set_xticks(iter_ticks)
    ax.set_xticks([-125, 125, 375, 625, 875, 1125], minor=True)
    ax.set_ylim(trace_ylims[i])
    ax.set_xlim(-50, 1050)
    ax.grid(which="major", color="white", lw=1.1)
    ax.grid(which="minor", color="white", lw=0.55)
    ax.set_axisbelow(True)
    ax.tick_params(which="minor", length=0)
    ax.tick_params(axis="y", which="major", length=3.2, width=0.8, color="#333333",
                   labelcolor="#4D4D4D", labelsize=11.5, pad=2)
    if i == len(trace_names) - 1:
        ax.tick_params(axis="x", which="major", length=3.2, width=0.8, color="#333333",
                       labelcolor="#4D4D4D", labelsize=12, pad=2)
    else:
        ax.tick_params(axis="x", which="major", length=0, labelbottom=False)

text_px((X0 + X1) / 2, 581, "iteration", ha="center", va="center", fontsize=12, color="black")
text_px(813, 293, "value", rotation=90, ha="center", va="center", fontsize=10.5, color="black")

fig.savefig("out.png", dpi=100)
